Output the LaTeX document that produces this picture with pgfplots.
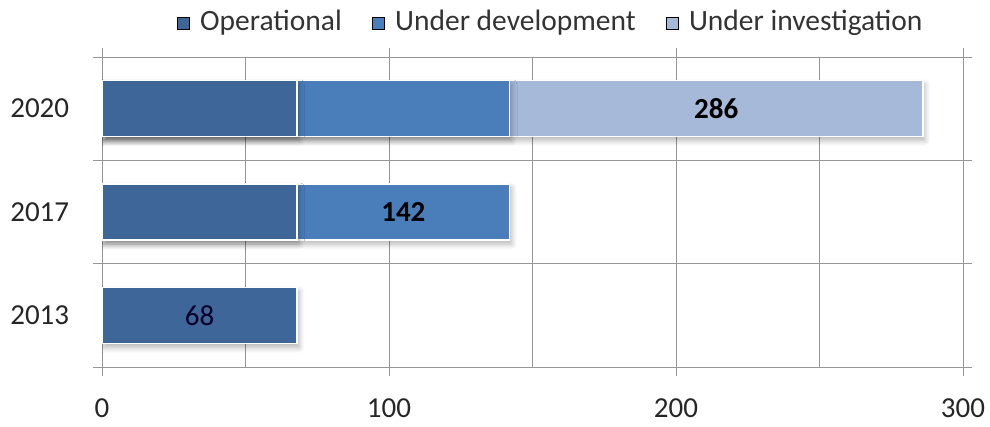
\documentclass[border=0pt]{standalone}
\usepackage{fontspec}
\setmainfont{Carlito}
\usepackage{pgfplots}
\pgfplotsset{compat=1.18}
\usetikzlibrary{shadows.blur}
\definecolor{op}{RGB}{63,102,153}
\definecolor{dev}{RGB}{74,126,187}
\definecolor{inv}{RGB}{167,185,217}
\definecolor{gridc}{RGB}{150,150,150}
\begin{document}
\fontsize{29}{34}\selectfont
\begin{tikzpicture}
\path[use as bounding box] (0,0) rectangle (990pt,426pt);
\begin{axis}[
  at={(102pt,59pt)}, anchor=south west,
  scale only axis, width=861pt, height=310pt,
  xbar, bar width=56pt,
  xmin=0, xmax=300, ymin=-0.5, ymax=2.5,
  xtick={0,100,200,300}, minor xtick={50,150,250},
  ytick={0,1,2}, yticklabels={2013,2017,2020},
  minor ytick={-0.5,0.5,1.5,2.5},
  xmajorgrids, xminorgrids, yminorgrids,
  major grid style={gridc, line width=1pt},
  minor grid style={gridc, line width=1pt},
  tick align=outside, major tick length=9pt, minor tick length=9pt,
  major y tick style={draw=none},
  minor x tick style={draw=none},
  tick style={gridc, line width=1pt},
  axis line style={gridc, line width=1pt},
  /pgf/number format/assume math mode=true,
  tick label style={font=\fontsize{29}{34}\selectfont, text=black!85},
  xticklabel style={yshift=-13pt},
  yticklabel style={xshift=-14pt},
  legend style={at={(0.521,1.11)}, anchor=center, draw=none, fill=none,
    legend columns=3, font=\fontsize{29.5}{34}\selectfont, text=black!80,
    /tikz/every even column/.append style={column sep=28pt},
    /tikz/every odd column/.append style={column sep=9pt}},
  legend image code/.code={\fill[#1] (0pt,-6pt) rectangle (12pt,6pt);},
]
\addlegendimage{fill=op}
\addlegendentry{Operational}
\addlegendimage{fill=dev}
\addlegendentry{Under development}
\addlegendimage{fill=inv}
\addlegendentry{Under investigation}
% cumulative totals, drawn from the largest down
\addplot[forget plot, bar shift=0pt, fill=inv, draw=white, line width=1.5pt,
  blur shadow={shadow xshift=2pt, shadow yshift=-4pt, shadow blur steps=6, shadow opacity=30}]
  coordinates {(286,2)};
\addplot[forget plot, bar shift=0pt, fill=dev, draw=white, line width=1.5pt,
  blur shadow={shadow xshift=2pt, shadow yshift=-4pt, shadow blur steps=6, shadow opacity=30}]
  coordinates {(142,1) (142,2)};
\addplot[forget plot, bar shift=0pt, fill=op, draw=white, line width=1.5pt,
  blur shadow={shadow xshift=2pt, shadow yshift=-4pt, shadow blur steps=6, shadow opacity=30}]
  coordinates {(68,0) (68,1) (68,2)};
\node[text=black!85!blue] at (34,0) {68};
\node[font=\bfseries] at (105,1) {142};
\node[font=\bfseries] at (214,2) {286};
\end{axis}
\end{tikzpicture}
\end{document}
